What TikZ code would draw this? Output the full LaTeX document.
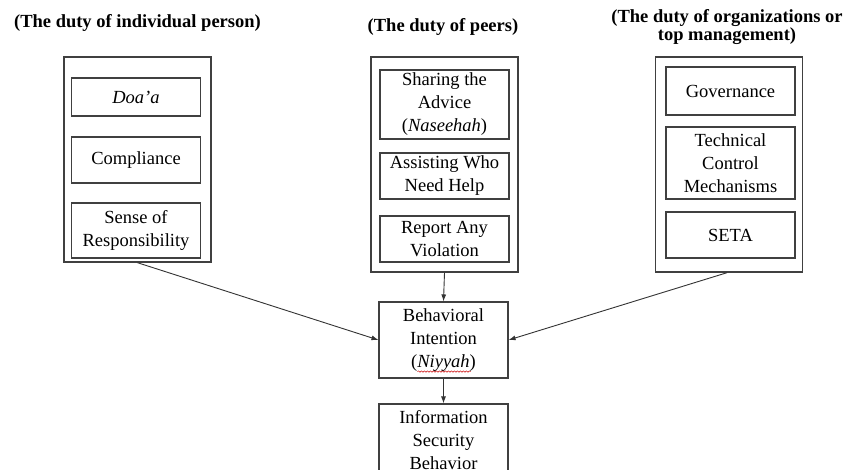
\documentclass[tikz,border=0pt]{standalone}
\usepackage{fontspec}
\setmainfont{Liberation Serif}
\usetikzlibrary{%
  arrows.meta,%
  calc,%
  decorations.pathmorphing%
}
\tikzset{>={Latex[length=7pt,width=5pt]}}
\tikzset{group/.style = {draw=black!75, line width=1.4pt, minimum width=147pt},%
  item/.style = {draw=black!75, line width=1.1pt, align=center, inner sep=0pt,
    minimum width=129pt, font=\fontsize{18.5}{23}\selectfont},%
  duty/.style = {align=center, font=\bfseries\fontsize{18.5}{18.5}\selectfont},%
  link/.style = {->, draw=black!80, line width=0.9pt}}

\begin{document}
\begin{tikzpicture}[x=1pt,y=-1pt]
  \useasboundingbox[fill=white] (0,0) rectangle (845,470);
  % duty headings
  \node[duty] (titleA) at (137.5,23) {(The duty of individual person)};
  \node[duty] (titleB) at (443,27) {(The duty of peers)};
  \node[duty] (titleC) at (727,27) {(The duty of organizations or\\top management)};
  % individual person
  \node[group,minimum height=205pt] (person) at (137.5,159.5) {};
  \node[item,minimum height=38pt] (doaa) at (136,97) {\textit{Doa’a}};
  \node[item,minimum height=46pt] (comply) at (136,160) {Compliance};
  \node[item,minimum height=55pt] (sense) at (136,230.5) {Sense of\\Responsibility};
  % peers
  \node[group,minimum height=215pt] (peers) at (444.5,164.5) {};
  \node[item,minimum height=69pt] (advice) at (444.5,104.5)
  {Sharing the\\Advice\\(\textit{Naseehah})};
  \node[item,minimum height=46pt] (assist) at (444.5,176) {Assisting Who\\Need Help};
  \node[item,minimum height=46pt] (report) at (444.5,239) {Report Any\\Violation};
  % organizations
  \node[group,minimum height=215pt] (org) at (729,164.5) {};
  \node[item,minimum height=48pt] (gov) at (730.5,91) {Governance};
  \node[item,minimum height=72pt] (tech) at (730.5,163)
  {Technical\\Control\\Mechanisms};
  \node[item,minimum height=46pt] (seta) at (730.5,235) {SETA};
  % intention and behavior
  \node[item,minimum height=76pt] (intent) at (443.5,340)
  {Behavioral\\Intention\\(\textit{Niyyah})};
  \draw[red!80!black, line width=0.5pt, decorate,
  decoration = {snake, amplitude=0.7pt, segment length=3pt}]
  ([xshift=-26pt,yshift=7pt]intent.south) -- ([xshift=27pt,yshift=7pt]intent.south);
  \node[item,minimum height=72pt] (isb) at (443.5,440)
  {Information\\Security\\Behavior};
  % connectors
  \draw[link] (person.south) -- (intent.west);
  \draw[link] (peers.south) -- (intent.north);
  \draw[link] ([xshift=-2pt]org.south) -- (intent.east);
  \draw[link] (intent.south) -- (isb.north);
\end{tikzpicture}
\end{document}
